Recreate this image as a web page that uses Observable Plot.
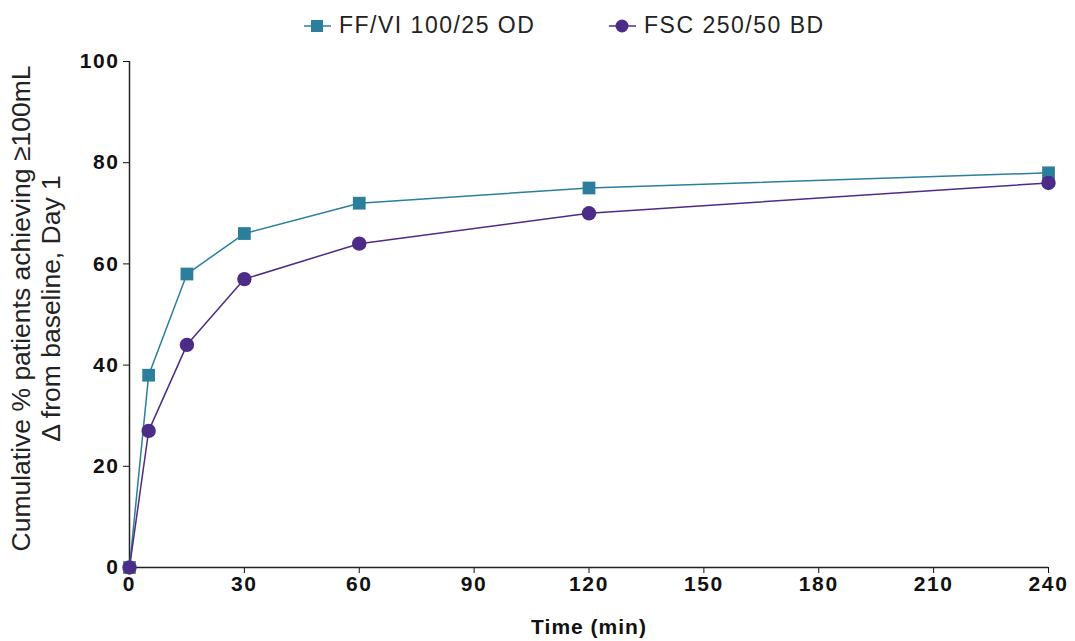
<!DOCTYPE html>
<html>
<head>
<meta charset="utf-8">
<script src="https://cdn.jsdelivr.net/npm/d3@7"></script>
<script src="https://cdn.jsdelivr.net/npm/@observablehq/plot@0.6"></script>
<style>
  html, body { margin: 0; padding: 0; background: #fff; }
  body { width: 1075px; height: 641px; overflow: hidden; font-family: "Liberation Sans", Arial, sans-serif; }
  #legend { position: relative; height: 45px; width: 1075px; }
  .item { position: absolute; top: 12px; display: flex; align-items: center; font-size: 23px; letter-spacing: 1.5px; color: #222; }
  .item svg { margin-right: 8px; }
  #chart svg { overflow: visible; }
  #chart g[aria-label="x-axis tick label"], #chart g[aria-label="y-axis tick label"] { letter-spacing: 1.6px; }
  #chart g[aria-label="x-axis label"] { letter-spacing: 1px; }
</style>
</head>
<body>
<div id="legend"></div>
<div id="chart"></div>
<script>
const times = [0, 5, 15, 30, 60, 120, 240];
const ffviValues = [0, 38, 58, 66, 72, 75, 78];
const fscValues = [0, 27, 44, 57, 64, 70, 76];
const seriesNames = ["FF/VI 100/25 OD", "FSC 250/50 BD"];
const seriesColors = ["#2b7f9b", "#4b2c86"];
const seriesSymbols = ["square", "circle"];
const xTicks = [0, 30, 60, 90, 120, 150, 180, 210, 240];
const yTicks = [0, 20, 40, 60, 80, 100];
const yLabel = "Cumulative % patients achieving ≥100mL\nΔ from baseline, Day 1";

const rows = [];
[ffviValues, fscValues].forEach((vals, i) => {
  vals.forEach((v, j) => rows.push({series: seriesNames[i], time: times[j], value: v}));
});

// Legend
const legend = document.getElementById("legend");
const legendX = [304, 609];
seriesNames.forEach((name, i) => {
  const div = document.createElement("div");
  div.className = "item";
  div.style.left = legendX[i] + "px";
  const marker = seriesSymbols[i] === "square"
    ? `<rect x="7" y="7" width="12" height="12" fill="${seriesColors[i]}"/>`
    : `<circle cx="13" cy="13" r="6.5" fill="${seriesColors[i]}"/>`;
  div.innerHTML = `<svg width="27" height="26"><line x1="0" x2="27" y1="13" y2="13" stroke="${seriesColors[i]}" stroke-width="1.5"/>${marker}</svg><span>${name}</span>`;
  legend.appendChild(div);
});

const chart = Plot.plot({
  width: 1075,
  height: 596,
  marginTop: 16,
  marginBottom: 74,
  marginLeft: 129,
  marginRight: 27,
  style: {fontFamily: "Liberation Sans, Arial, sans-serif", fontSize: "20px", color: "#111", background: "#fff"},
  x: {domain: [0, 240]},
  y: {domain: [0, 100]},
  color: {domain: seriesNames, range: seriesColors},
  symbol: {domain: seriesNames, range: seriesSymbols},
  marks: [
    Plot.axisX({ticks: xTicks, tickSize: 6, tickPadding: 3, fontWeight: "bold", fontSize: 21,
      label: "Time (min)", labelAnchor: "center", labelArrow: "none", labelOffset: 66}),
    Plot.axisY({ticks: yTicks, tickSize: 6, tickPadding: 4, fontWeight: "bold", fontSize: 21,
      label: null}),
    Plot.text([yLabel], {
      frameAnchor: "left", textAnchor: "middle", dx: -94, dy: -6, rotate: -90,
      fontSize: 26.5, lineHeight: 1.12, fill: "#222"
    }),
    Plot.ruleX([0], {stroke: "#222", strokeWidth: 1.5}),
    Plot.ruleY([0], {stroke: "#222", strokeWidth: 1.5}),
    Plot.line(rows, {x: "time", y: "value", stroke: "series", strokeWidth: 1.5}),
    Plot.dot(rows, {x: "time", y: "value", fill: "series", symbol: "series", r: 7.2, stroke: "none"})
  ]
});
document.getElementById("chart").appendChild(chart);
</script>
</body>
</html>
